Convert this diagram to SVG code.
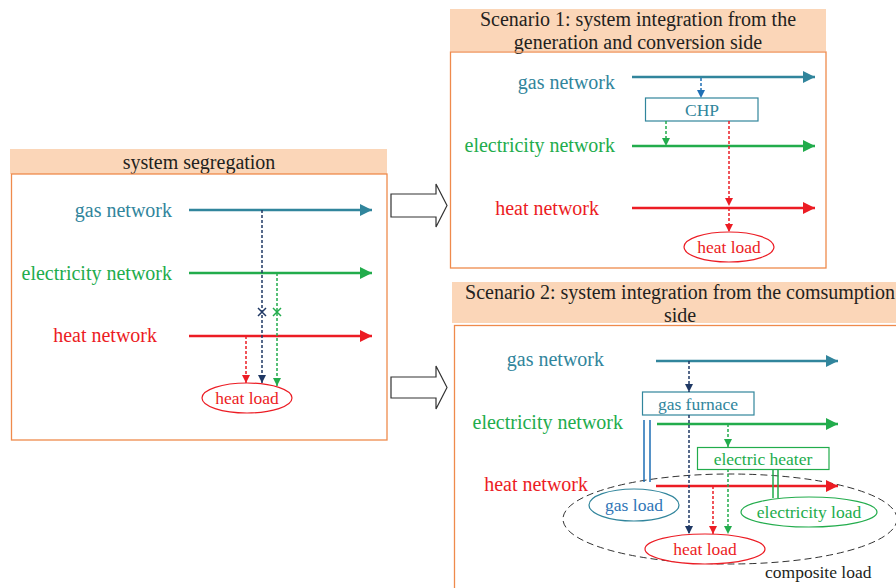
<svg xmlns="http://www.w3.org/2000/svg" width="896" height="588" viewBox="0 0 896 588">
<style>
text{font-family:"Liberation Serif","Times New Roman",serif}
.t{font-size:20px;fill:#231f20;text-anchor:middle}
.lbl{font-size:20px;text-anchor:end}
.gas{fill:#31859c}.ele{fill:#22ac4c}.heat{fill:#ec1c24}
.bar{fill:#fbd6b8}
.box{fill:none;stroke:#ef8a4c;stroke-width:1.3}
.ng{stroke:#31859c;stroke-width:2.6;fill:none}
.ne{stroke:#22ac4c;stroke-width:2.6;fill:none}
.nh{stroke:#ec1c24;stroke-width:2.6;fill:none}
.dn{stroke:#1f3864;stroke-width:1.5;stroke-dasharray:3 2;fill:none}
.db{stroke:#1f6fb5;stroke-width:1.5;stroke-dasharray:3 2;fill:none}
.dg{stroke:#22ac4c;stroke-width:1.5;stroke-dasharray:3 2;fill:none}
.dr{stroke:#ec1c24;stroke-width:1.5;stroke-dasharray:3 2;fill:none}
.sm{font-size:17.5px;text-anchor:middle}
.hollow{fill:#fff;stroke:#333;stroke-width:1.2}
</style>
<defs>
<marker id="mg" viewBox="0 0 10 10" refX="10" refY="5" markerWidth="17" markerHeight="12" markerUnits="userSpaceOnUse" orient="auto"><path d="M0,0L10,5L0,10z" fill="#31859c"/></marker>
<marker id="me" viewBox="0 0 10 10" refX="10" refY="5" markerWidth="17" markerHeight="12" markerUnits="userSpaceOnUse" orient="auto"><path d="M0,0L10,5L0,10z" fill="#22ac4c"/></marker>
<marker id="mh" viewBox="0 0 10 10" refX="10" refY="5" markerWidth="17" markerHeight="12" markerUnits="userSpaceOnUse" orient="auto"><path d="M0,0L10,5L0,10z" fill="#ec1c24"/></marker>
<marker id="sn" viewBox="0 0 10 10" refX="10" refY="5" markerWidth="11" markerHeight="8" markerUnits="userSpaceOnUse" orient="auto"><path d="M0,0L10,5L0,10z" fill="#1f3864"/></marker>
<marker id="sb" viewBox="0 0 10 10" refX="10" refY="5" markerWidth="11" markerHeight="8" markerUnits="userSpaceOnUse" orient="auto"><path d="M0,0L10,5L0,10z" fill="#1f6fb5"/></marker>
<marker id="sg" viewBox="0 0 10 10" refX="10" refY="5" markerWidth="11" markerHeight="8" markerUnits="userSpaceOnUse" orient="auto"><path d="M0,0L10,5L0,10z" fill="#22ac4c"/></marker>
<marker id="sr" viewBox="0 0 10 10" refX="10" refY="5" markerWidth="11" markerHeight="8" markerUnits="userSpaceOnUse" orient="auto"><path d="M0,0L10,5L0,10z" fill="#ec1c24"/></marker>
</defs>

<!-- Panel: system segregation -->
<g id="panel-segregation">
<rect class="bar" x="10" y="149" width="377" height="25"/>
<text class="t" x="199" y="169">system segregation</text>
<rect class="box" x="11.5" y="174" width="375.5" height="266"/>
<text class="lbl gas" x="172" y="217">gas network</text>
<text class="lbl ele" x="172" y="280">electricity network</text>
<text class="lbl heat" x="157" y="342">heat network</text>
</g>
<g id="seg-heat-load">
<ellipse cx="247" cy="398" rx="45" ry="15" fill="#fff" stroke="#ec1c24" stroke-width="1.2"/>
<text class="sm heat" x="247" y="404">heat load</text>
</g>

<!-- Panel: scenario 1 -->
<g id="panel-scenario1">
<rect class="bar" x="450" y="9" width="376" height="42"/>
<text class="t" x="638" y="26">Scenario 1: system integration from the</text>
<text class="t" x="638" y="49">generation and conversion side</text>
<rect class="box" x="450.5" y="52" width="375.5" height="216"/>
<text class="lbl gas" x="615" y="89">gas network</text>
<text class="lbl ele" x="615" y="152">electricity network</text>
<text class="lbl heat" x="599" y="215">heat network</text>
</g>
<g id="s1-chp">
<rect x="645.5" y="98" width="112.5" height="23" fill="#fff" stroke="#31859c" stroke-width="1.2"/>
<text class="sm gas" x="702" y="116">CHP</text>
</g>
<g id="s1-heat-load">
<ellipse cx="729" cy="247" rx="45" ry="15" fill="#fff" stroke="#ec1c24" stroke-width="1.2"/>
<text class="sm heat" x="729" y="253">heat load</text>
</g>

<!-- Panel: scenario 2 -->
<g id="panel-scenario2">
<rect class="bar" x="452" y="282" width="450" height="41"/>
<text class="t" x="680" y="299">Scenario 2: system integration from the comsumption</text>
<text class="t" x="680" y="322">side</text>
<rect class="box" x="454.5" y="325.5" width="460" height="280"/>
<text class="lbl gas" x="604" y="366">gas network</text>
<text class="lbl ele" x="623" y="429">electricity network</text>
<text class="lbl heat" x="588" y="491">heat network</text>
</g>
<g id="s2-composite-load">
<ellipse cx="730" cy="519" rx="167" ry="45" fill="none" stroke="#333" stroke-width="1" stroke-dasharray="7 4"/>
<text x="765" y="578" style="font-size:17.5px;fill:#231f20">composite load</text>
</g>
<g id="s2-gas-furnace">
<rect x="642.5" y="392" width="111.5" height="23" fill="#fff" stroke="#31859c" stroke-width="1.2"/>
<text class="sm gas" x="698" y="410">gas furnace</text>
</g>
<g id="s2-electric-heater">
<rect x="697.5" y="447.5" width="131.5" height="22" fill="#fff" stroke="#22ac4c" stroke-width="1.2"/>
<text class="sm ele" x="763" y="465">electric heater</text>
</g>
<g id="s2-gas-load">
<ellipse cx="634" cy="505" rx="45" ry="16" fill="#fff" stroke="#31859c" stroke-width="1.2"/>
<text class="sm" x="634" y="511" fill="#2e75b6">gas load</text>
</g>
<g id="s2-electricity-load">
<ellipse cx="809" cy="512" rx="68" ry="15" fill="#fff" stroke="#22ac4c" stroke-width="1.2"/>
<text class="sm ele" x="809" y="518">electricity load</text>
</g>
<g id="s2-heat-load">
<ellipse cx="705" cy="549" rx="60" ry="15" fill="#fff" stroke="#ec1c24" stroke-width="1.2"/>
<text class="sm heat" x="705" y="555">heat load</text>
</g>

<!-- transition arrows -->
<g id="transition-arrows">
<path class="hollow" d="M391,194H436V184L447,205.5L436,227V217H391Z"/>
<path class="hollow" d="M391,377H436V366L447,387.5L436,409V398H391Z"/>
</g>

<g id="connectors">
<!-- segregation -->
<path class="ng" d="M189,210H372" marker-end="url(#mg)"/>
<path class="ne" d="M189,273H372" marker-end="url(#me)"/>
<path class="nh" d="M189,336H372" marker-end="url(#mh)"/>
<path class="dn" d="M262,210V383" marker-end="url(#sn)"/>
<path class="dg" d="M277,273V386" marker-end="url(#sg)"/>
<path class="dr" d="M246,336V383" marker-end="url(#sr)"/>
<path d="M258,308L266,316M266,308L258,316" stroke="#1f3864" stroke-width="1.5"/>
<path d="M273,308L281,316M281,308L273,316" stroke="#22ac4c" stroke-width="1.5"/>
<!-- scenario 1 -->
<path class="ng" d="M632,77H815" marker-end="url(#mg)"/>
<path class="ne" d="M632,146H815" marker-end="url(#me)"/>
<path class="nh" d="M632,208H815" marker-end="url(#mh)"/>
<path class="db" d="M701,78V98" marker-end="url(#sb)"/>
<path class="dg" d="M666,121V146" marker-end="url(#sg)"/>
<path class="dr" d="M729,121V206" marker-end="url(#sr)"/>
<path class="dr" d="M729,208V232" marker-end="url(#sr)"/>
<!-- scenario 2 -->
<path class="ng" d="M656,361H838" marker-end="url(#mg)"/>
<path class="ne" d="M657,424H838" marker-end="url(#me)"/>
<path class="nh" d="M656,486H838" marker-end="url(#mh)"/>
<path class="dn" d="M689,361V392" marker-end="url(#sn)"/>
<path class="dn" d="M689,415V534" marker-end="url(#sn)"/>
<path class="dg" d="M728,424V447" marker-end="url(#sg)"/>
<path class="dg" d="M728,469V534" marker-end="url(#sg)"/>
<path class="dr" d="M713,486V534" marker-end="url(#sr)"/>
<path d="M644,420V482M650,420V482" stroke="#1f6fb5" stroke-width="1.5" fill="none"/>
<path d="M773,469V498M778,469V498" stroke="#22ac4c" stroke-width="1.5" fill="none"/>
</g>
</svg>
